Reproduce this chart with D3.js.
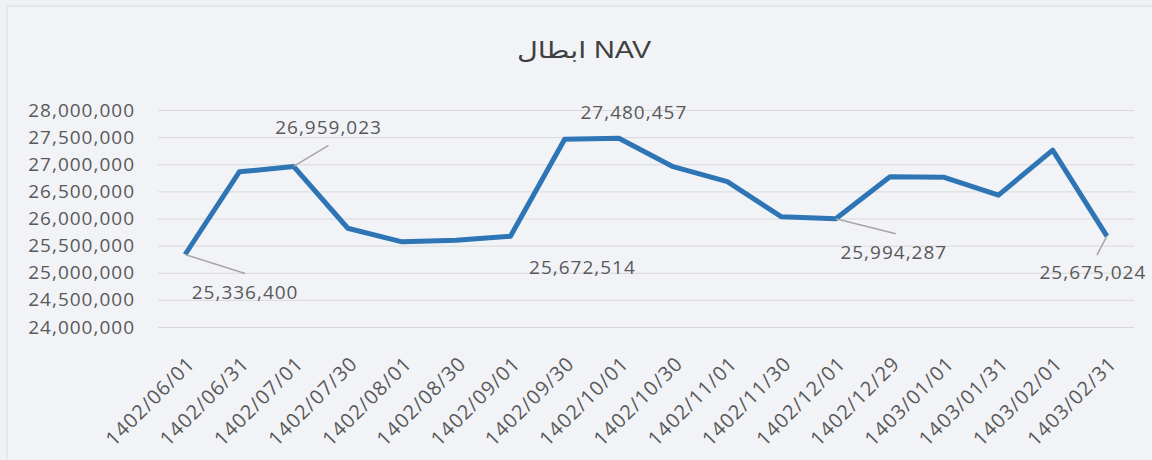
<html>
<head>
<meta charset="utf-8">
<title>NAV ابطال</title>
<script src="https://d3js.org/d3.v7.min.js" charset="utf-8"></script>
<style>
body { margin: 0; background: #f0f1f5; }
.lbl { font-family: "Open Sans", sans-serif; font-size: 19px; letter-spacing: 1px; fill: #595959; }
.xlbl { font-size: 20px; }
</style>
</head>
<body>
<script>
// chart data
var dates = ["1402/06/01","1402/06/31","1402/07/01","1402/07/30","1402/08/01","1402/08/30",
             "1402/09/01","1402/09/30","1402/10/01","1402/10/30","1402/11/01","1402/11/30",
             "1402/12/01","1402/12/29","1403/01/01","1403/01/31","1403/02/01","1403/02/31"];
var navValues = [25336400, 26860000, 26959023, 25820000, 25570000, 25600000,
                 25672514, 27460000, 27480457, 26955000, 26680000, 26030000,
                 25994287, 26770000, 26760000, 26430000, 27260000, 25675024];
var yTicks = [24000000, 24500000, 25000000, 25500000, 26000000, 26500000, 27000000, 27500000, 28000000];
var labelled = [0, 2, 6, 8, 12, 17];

// label placement (offset of label centre from its point, leader line end)
var labelPos = {
  0:  {dx: 60,  dy: 38,  lx: 60,  ly: 19},
  2:  {dx: 35,  dy: -39, lx: 35,  ly: -21},
  6:  {dx: 72,  dy: 31},
  8:  {dx: 15,  dy: -26},
  12: {dx: 58,  dy: 34,  lx: 60,  ly: 15},
  17: {dx: -14, dy: 36,  lx: -10, ly: 19}
};

var width = 1152, height = 460;
var svg = d3.select("body").append("svg")
  .attr("width", width)
  .attr("height", height);

// faint chart frame
svg.append("rect")
  .attr("x", 7).attr("y", 6).attr("width", 1160).attr("height", 470)
  .attr("fill", "#f2f3f7").attr("stroke", "#dcdde2");

var x = d3.scalePoint().domain(dates).range([158, 1134]).padding(0.5);
var y = d3.scaleLinear().domain([24000000, 28000000]).range([327, 110]);
var fmt = d3.format(",");

// title (photo is a bit stretched sideways, so widen it)
svg.append("text")
  .attr("transform", "translate(584,58) scale(1.25,1)")
  .attr("text-anchor", "middle")
  .style("direction", "rtl")
  .style("font-family", "'Liberation Sans', 'DejaVu Sans', sans-serif")
  .style("font-size", "23px")
  .style("fill", "#404040")
  .text("NAV ابطال");

// gridlines + y labels
var yAxis = d3.axisLeft(y).tickValues(yTicks).tickSize(-(1134 - 158)).tickFormat(fmt).tickPadding(23);
var ga = svg.append("g").attr("transform", "translate(158,0)").call(yAxis);
ga.select(".domain").remove();
ga.selectAll(".tick line").attr("stroke", "#d9d9d9").attr("stroke-width", 1);
ga.selectAll(".tick text").attr("class", "lbl").attr("font-size", null).attr("font-family", null);

// x labels, rotated
var gx = svg.append("g");
gx.selectAll("text")
  .data(dates)
  .enter()
  .append("text")
  .attr("class", "lbl xlbl")
  .attr("text-anchor", "end")
  .attr("transform", function(d) { return "translate(" + (x(d) + 11) + ",365) rotate(-45)"; })
  .text(function(d) { return d; });

// line
var line = d3.line()
  .x(function(d, i) { return x(dates[i]); })
  .y(function(d) { return y(d); });

svg.append("path")
  .datum(navValues)
  .attr("fill", "none")
  .attr("stroke", "#2e75b6")
  .attr("stroke-width", 5)
  .attr("stroke-linejoin", "round")
  .attr("d", line);

// data labels with leader lines
labelled.forEach(function(i) {
  var p = labelPos[i];
  var px = x(dates[i]), py = y(navValues[i]);
  if (p.lx !== undefined) {
    svg.append("line")
      .attr("x1", px).attr("y1", py)
      .attr("x2", px + p.lx).attr("y2", py + p.ly)
      .attr("stroke", "#a6a6a6").attr("stroke-width", 1.5);
  }
  svg.append("text")
    .attr("class", "lbl")
    .attr("text-anchor", "middle")
    .attr("x", px + p.dx)
    .attr("y", py + p.dy)
    .attr("dy", "0.35em")
    .text(fmt(navValues[i]));
});
</script>
</body>
</html>
